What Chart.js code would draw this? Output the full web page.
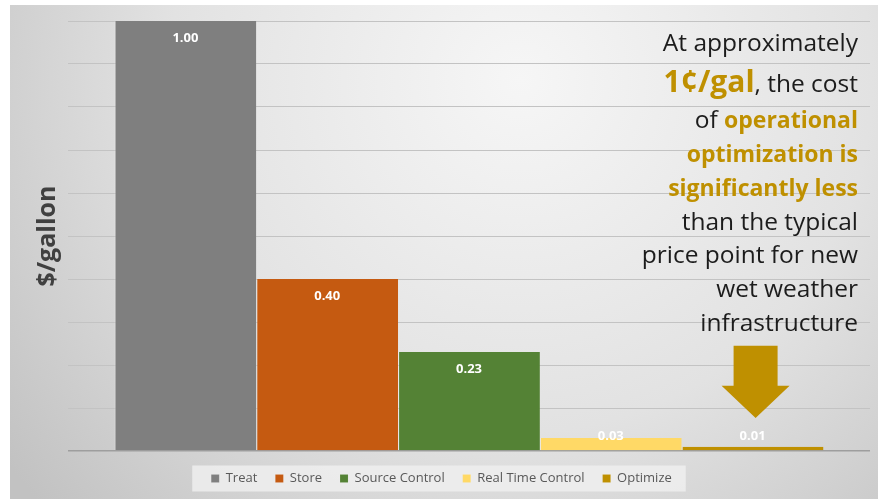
<!DOCTYPE html>
<html>
<head>
<meta charset="utf-8">
<script src="https://cdn.jsdelivr.net/npm/chart.js@4.4.1/dist/chart.umd.min.js"></script>
<style>
  html, body { margin: 0; padding: 0; background: #fff; }
  #wrap { width: 878px; height: 499px; }
</style>
</head>
<body>
<div id="wrap"><canvas id="myChart" width="878" height="499"></canvas></div>
<script>
// --- DATA ---
const categories = ['Treat', 'Store', 'Source Control', 'Real Time Control', 'Optimize'];
const costPerGallon = [1.00, 0.40, 0.23, 0.03, 0.01];
const barColors = ['#7f7f7f', '#c55a11', '#548235', '#ffd966', '#bf9000'];
const yMin = 0;
const yMax = 1;
const yStep = 0.1;

// annotation text, one entry per line: [text, style]
const noteLines = [
    [['At approximately', 'n']],
    [['1¢/gal', 'big'], [', the cost', 'n']],
    [['of ', 'n'], ['operational', 'g']],
    [['optimization is', 'g']],
    [['significantly less', 'g']],
    [['than the typical', 'n']],
    [['price point for new', 'n']],
    [['wet weather', 'n']],
    [['infrastructure', 'n']]
];

const GOLD = '#bf9000';
const INK = '#1c1c1c';
const FONT = '"Open Sans", "DejaVu Sans", sans-serif';

// --- PLUGINS ---
const backdrop = {
    id: 'backdrop',
    beforeDraw(chart) {
        const { ctx, width, height } = chart;
        ctx.save();
        ctx.fillStyle = '#ffffff';
        ctx.fillRect(0, 0, width, height);
        const g = ctx.createRadialGradient(520, 80, 0, 520, 80, 640);
        g.addColorStop(0, '#f6f6f6');
        g.addColorStop(0.55, '#e2e2e2');
        g.addColorStop(1, '#c2c2c2');
        ctx.fillStyle = g;
        ctx.fillRect(10, 5, width - 10, height - 5);

        // legend panel
        const boxes = chart.legend.legendHitBoxes;
        if (boxes && boxes.length) {
            const first = boxes[0];
            const last = boxes[boxes.length - 1];
            const cy = first.top + first.height / 2;
            ctx.fillStyle = 'rgba(238,238,238,0.85)';
            ctx.fillRect(first.left - 19, cy - 13, last.left + last.width - first.left + 33, 26);
        }
        ctx.restore();
    }
};

const barLabels = {
    id: 'barLabels',
    afterDatasetsDraw(chart) {
        const { ctx } = chart;
        const base = chart.scales.y.getPixelForValue(0);
        ctx.save();
        ctx.font = 'bold 13px ' + FONT;
        ctx.fillStyle = '#ffffff';
        ctx.textAlign = 'center';
        ctx.textBaseline = 'middle';
        chart.data.datasets.forEach((ds, i) => {
            const bar = chart.getDatasetMeta(i).data[0];
            const y = Math.min(bar.y + 17, base - 15);
            ctx.fillText(ds.data[0].toFixed(2), bar.x, y);
        });
        ctx.restore();
    }
};

const note = {
    id: 'note',
    afterDraw(chart) {
        const { ctx } = chart;
        const right = 858;
        const fonts = {
            n: '24.5px ' + FONT,
            g: 'bold 23px ' + FONT,
            big: 'bold 30px ' + FONT
        };
        const baselines = [51, 92, 128, 162, 196, 230, 263, 297, 331];
        ctx.save();
        ctx.textBaseline = 'alphabetic';
        ctx.textAlign = 'left';
        noteLines.forEach((segs, li) => {
            let total = 0;
            segs.forEach(([t, s]) => { ctx.font = fonts[s]; total += ctx.measureText(t).width; });
            let x = right - total;
            segs.forEach(([t, s]) => {
                ctx.font = fonts[s];
                ctx.fillStyle = s === 'n' ? INK : GOLD;
                ctx.fillText(t, x, baselines[li]);
                x += ctx.measureText(t).width;
            });
        });

        // down arrow above the Optimize bar
        const y = chart.scales.y;
        const bar = chart.getDatasetMeta(categories.length - 1).data[0];
        const cx = bar.x + 3;
        const top = y.getPixelForValue(0.245);
        const neck = y.getPixelForValue(0.152);
        const tip = y.getPixelForValue(0.077);
        ctx.fillStyle = GOLD;
        ctx.beginPath();
        ctx.moveTo(cx - 22, top);
        ctx.lineTo(cx + 22, top);
        ctx.lineTo(cx + 22, neck);
        ctx.lineTo(cx + 34, neck);
        ctx.lineTo(cx, tip);
        ctx.lineTo(cx - 34, neck);
        ctx.lineTo(cx - 22, neck);
        ctx.closePath();
        ctx.fill();
        ctx.restore();
    }
};

// --- CHART ---
const ctx = document.getElementById('myChart').getContext('2d');
new Chart(ctx, {
    type: 'bar',
    data: {
        labels: ['$/gallon'],
        datasets: categories.map((name, i) => ({
            label: name,
            data: [costPerGallon[i]],
            backgroundColor: barColors[i],
            borderColor: 'rgba(255,255,255,0.35)',
            borderWidth: { left: 1, right: 0, top: 0, bottom: 0 },
            borderSkipped: false,
            categoryPercentage: 0.884,
            barPercentage: 1
        }))
    },
    options: {
        responsive: false,
        devicePixelRatio: 1,
        animation: false,
        layout: { padding: { left: 13, right: 8, top: 21, bottom: 4 } },
        scales: {
            x: {
                display: true,
                ticks: { display: false },
                grid: { display: false, drawTicks: false },
                border: { display: false },
                afterFit: s => { s.height = 3; }
            },
            y: {
                min: yMin,
                max: yMax,
                ticks: { display: false, stepSize: yStep },
                grid: {
                    drawTicks: false,
                    color: c => c.tick.value === 0 ? '#9e9e9e' : '#c3c3c3',
                    lineWidth: c => c.tick.value === 0 ? 1.5 : 1
                },
                border: { display: false },
                title: {
                    display: true,
                    text: '$/gallon',
                    color: '#404040',
                    font: { family: FONT, size: 25, weight: 'bold' },
                    padding: { top: 20, bottom: 5 }
                }
            }
        },
        plugins: {
            legend: {
                position: 'bottom',
                labels: {
                    boxWidth: 8,
                    boxHeight: 8,
                    padding: 18,
                    color: '#595959',
                    font: { family: FONT, size: 13 }
                }
            },
            tooltip: { enabled: false }
        }
    },
    plugins: [backdrop, barLabels, note]
});
</script>
</body>
</html>
